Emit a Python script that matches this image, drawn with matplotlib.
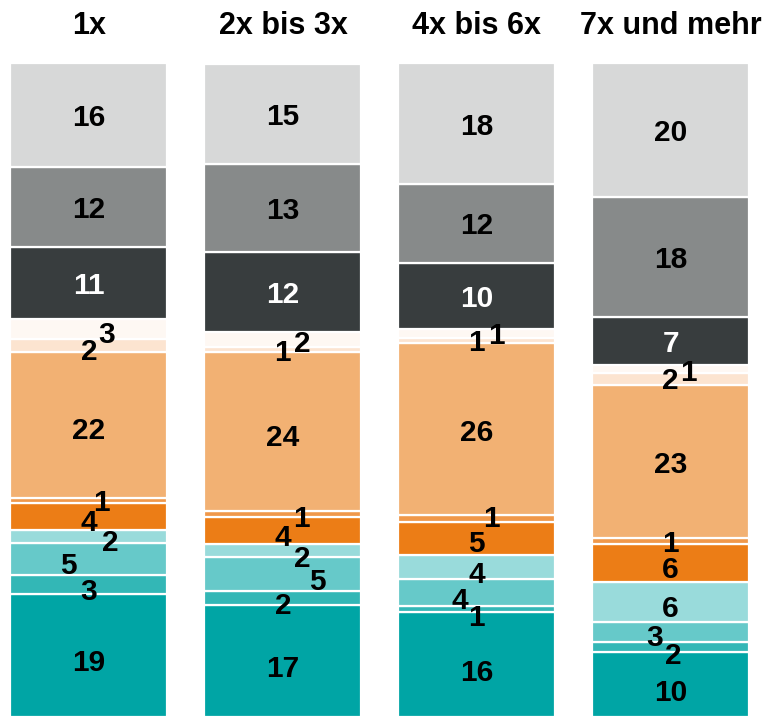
import matplotlib
matplotlib.use("Agg")
import matplotlib.pyplot as plt
import numpy as np

plt.rcParams['font.family'] = ['Liberation Sans', 'DejaVu Sans']

categories = ["1x", "2x bis 3x", "4x bis 6x", "7x und mehr"]

# segment order: bottom -> top
segment_colors = ["#00A5A5", "#33B7B6", "#66C9C9", "#99DBDB",
                  "#EC7D16", "#F0984A", "#F2B173", "#FCE4D0",
                  "#FEF8F3", "#383D3E", "#878A8A", "#D7D8D8"]

col_1x      = [18.8, 2.9, 4.9, 2.0, 4.1, 0.7, 22.3, 2.0, 3.0, 11.1, 12.1, 16.0]
col_2x_3x   = [17.1, 2.1, 5.2, 2.0, 4.1, 1.0, 24.2, 0.8, 2.3, 12.2, 13.4, 15.3]
col_4x_6x   = [16.0, 0.9, 4.1, 3.7, 5.1, 1.0, 26.3, 0.8, 1.3, 10.1, 12.1, 18.4]
col_7x_mehr = [9.9, 1.6, 3.0, 6.1, 5.8, 0.9, 23.4, 1.8, 1.3, 7.2, 18.4, 20.4]

labels_1x      = [19, 3, 5, 2, 4, 1, 22, 2, 3, 11, 12, 16]
labels_2x_3x   = [17, 2, 5, 2, 4, 1, 24, 1, 2, 12, 13, 15]
labels_4x_6x   = [16, 1, 4, 4, 5, 1, 26, 1, 1, 10, 12, 18]
labels_7x_mehr = [10, 2, 3, 6, 6, 1, 23, 2, 1, 7, 18, 20]

columns = [col_1x, col_2x_3x, col_4x_6x, col_7x_mehr]
labels = [labels_1x, labels_2x_3x, labels_4x_6x, labels_7x_mehr]

# label offsets in pixels (dx, dy) relative to segment centre
offsets = [
    [(0, -5), (0, -5), (-21, -4), (21, -4), (0, -4), (12, 1), (0, -3), (0, -3), (18, -3), (0, 0), (0, 0), (0, 0)],
    [(0, -5), (0, -5), (35, -5), (19, -5), (0, -4), (19, -2), (0, -4), (0, 0), (19, -2), (0, 0), (0, 0), (0, 0)],
    [(0, -5), (0, -6), (-17, -5), (0, -5), (0, -2), (15, 3), (0, -1), (0, 0), (20, 0), (0, 0), (0, 0), (0, 0)],
    [(0, -5), (3, -6), (-16, -3), (0, -4), (0, -4), (0, 0), (0, 0), (0, 1), (18, -1), (0, 0), (0, 0), (0, 0)],
]

W, H = 774, 717
fig = plt.figure(figsize=(W / 100, H / 100), dpi=100)
ax = fig.add_axes([0, 0, 1, 1 - 62 / H])

x = np.arange(len(categories))
width = 157 / 194
for ci, vals in enumerate(columns):
    bottom = 0.0
    for si, v in enumerate(vals):
        ax.bar(x[ci], v, bottom=bottom, width=width, color=segment_colors[si],
               edgecolor="white", linewidth=1.6)
        txtcol = "white" if si == 9 else "black"
        dx, dy = offsets[ci][si]
        ax.annotate(str(labels[ci][si]), (x[ci], bottom + v / 2),
                    xytext=(dx, dy - 3), textcoords="offset pixels",
                    ha="center", va="center", fontsize=21.5, fontweight="bold",
                    color=txtcol)
        bottom += v

ax.set_xlim(-89 / 194, 3 + (W - 670.5) / 194)
ax.set_ylim(0, 100)
ax.axis("off")

for ci, cat in enumerate(categories):
    xf = (89 + 194 * ci) / W
    fig.text(xf, 1 - 26 / H, cat, ha="center", va="center",
             fontsize=22, fontweight="bold", color="black")

fig.savefig("out.png", dpi=100)
